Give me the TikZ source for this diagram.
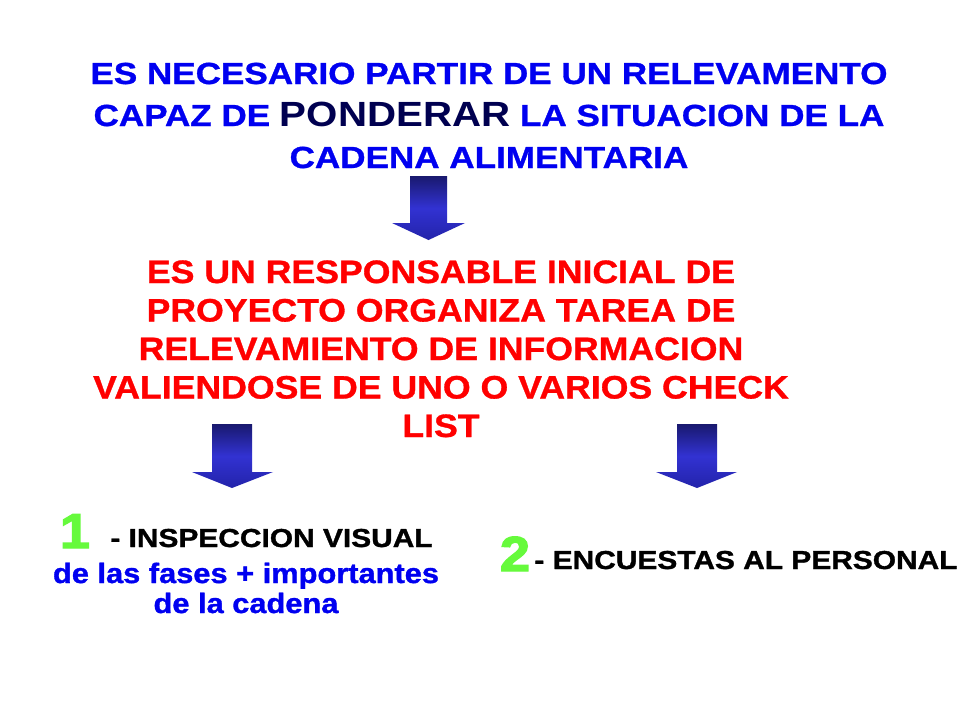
\documentclass[tikz,border=0pt]{standalone}
\usepackage{fontspec}
\usetikzlibrary{calc}
\setmainfont{Liberation Sans}
\newfontfamily\titlefont[FakeStretch=1.15,FakeBold=1]{Liberation Sans Bold}
\newfontfamily\navyfont[FakeStretch=1.15]{Liberation Sans Bold}
\newfontfamily\redfont[FakeStretch=1.1,FakeBold=1]{Liberation Sans Bold}
\newfontfamily\smallfont[FakeStretch=1.15,FakeBold=1.2]{Liberation Sans Bold}
\newfontfamily\bluefont[FakeStretch=1.1,FakeBold=1.2]{Liberation Sans Bold}
\newfontfamily\numfont[FakeStretch=1.1,FakeBold=3]{Liberation Sans Bold}
\definecolor{tblue}{RGB}{0,0,240}
\definecolor{tnavy}{RGB}{0,0,80}
\definecolor{tred}{RGB}{255,0,0}
\definecolor{tgreen}{RGB}{102,250,60}
\definecolor{adark}{RGB}{25,25,110}
\definecolor{amid}{RGB}{50,50,210}
\definecolor{abot}{RGB}{35,35,170}
\begin{document}
\begin{tikzpicture}[x=1pt,y=-1pt,
  txt/.style={inner sep=0pt,align=center},
  titletxt/.style={txt,text=tblue,font=\titlefont\fontsize{30.5}{42}\selectfont},
  redtxt/.style={txt,text=tred,font=\redfont\fontsize{32.4}{38.5}\selectfont},
  numtxt/.style={txt,text=tgreen,font=\numfont\fontsize{49}{49}\selectfont},
  blacktxt/.style={txt,text=black,font=\smallfont\fontsize{26}{30}\selectfont},
  bluetxt/.style={txt,text=tblue,font=\bluefont\fontsize{28}{30}\selectfont},
  blockarrow/.style={top color=adark,bottom color=abot,middle color=amid}
]
\useasboundingbox (0,0) rectangle (960,720);
\fill[white] (0,0) rectangle (960,720);

% title (base anchor = baseline of last line)
\node[titletxt,anchor=base] (title) at (489,168)
 {ES NECESARIO PARTIR DE UN RELEVAMENTO\\
  CAPAZ DE {\navyfont\color{tnavy}\fontsize{35}{42}\selectfont PONDERAR} LA SITUACION DE LA\\
  CADENA ALIMENTARIA};

% red block
\node[redtxt,anchor=base] (resp) at (441,437)
 {ES UN RESPONSABLE INICIAL DE\\
  PROYECTO ORGANIZA TAREA DE\\
  RELEVAMIENTO DE INFORMACION\\
  VALIENDOSE DE UNO O VARIOS CHECK\\
  LIST};

% arrows
\coordinate (a1) at (428.5,176);
\coordinate (a2) at (232,424);
\coordinate (a3) at (697,424);
\shade[blockarrow] ($(a1)+(-18.5,0)$) -- ++(37,0) -- ++(0,47) -- ++(18,0)
  -- ($(a1)+(0,64)$) -- ++(-36.5,-17) -- ++(18,0) -- cycle;
\shade[blockarrow] ($(a2)+(-20,0)$) -- ++(40,0) -- ++(0,48) -- ++(21,0)
  -- ($(a2)+(0,64)$) -- ++(-40,-16) -- ++(20,0) -- cycle;
\shade[blockarrow] ($(a3)+(-20,0)$) -- ++(40,0) -- ++(0,48) -- ++(20,0)
  -- ($(a3)+(0,64)$) -- ++(-41,-16) -- ++(21,0) -- cycle;

% option 1
\node[numtxt,anchor=base] (n1) at (75,548) {1};
\node[blacktxt,anchor=base] (insp) at (271.5,547) {- INSPECCION VISUAL};
\node[bluetxt,anchor=base] (fases) at (246,613) {de las fases + importantes\\ de la cadena};

% option 2
\node[numtxt,anchor=base] (n2) at (515,571) {2};
\node[blacktxt,anchor=base] (enc) at (746,569) {- ENCUESTAS AL PERSONAL};
\end{tikzpicture}
\end{document}
